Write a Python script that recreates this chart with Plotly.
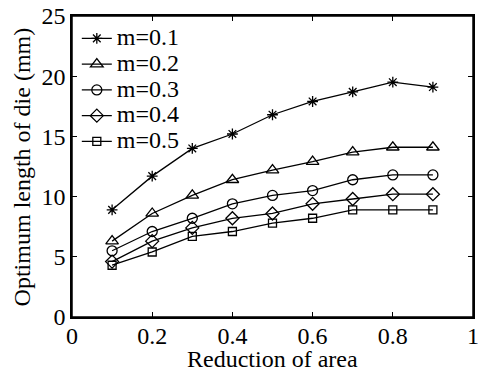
import plotly.graph_objects as go

reduction = [0.1, 0.2, 0.3, 0.4, 0.5, 0.6, 0.7, 0.8, 0.9]
m01 = [8.9, 11.7, 14.0, 15.2, 16.8, 17.9, 18.7, 19.5, 19.1]
m02 = [6.3, 8.6, 10.1, 11.4, 12.2, 12.9, 13.7, 14.1, 14.1]
m03 = [5.5, 7.1, 8.2, 9.4, 10.1, 10.5, 11.4, 11.8, 11.8]
m04 = [4.6, 6.3, 7.4, 8.2, 8.6, 9.4, 9.8, 10.2, 10.2]
m05 = [4.3, 5.4, 6.7, 7.1, 7.8, 8.2, 8.9, 8.9, 8.9]
series_names = ["m=0.1", "m=0.2", "m=0.3", "m=0.4", "m=0.5"]
series_vals = [m01, m02, m03, m04, m05]
symbols = ["asterisk-open", "triangle-up-open", "circle-open", "diamond-open", "square-open"]
sizes = [9, 11, 10, 10, 8]
x_ticks = [0, 0.2, 0.4, 0.6, 0.8, 1]
x_tick_labels = ["0", "0.2", "0.4", "0.6", "0.8", "1"]
y_ticks = [0, 5, 10, 15, 20, 25]

fig = go.Figure()
for name, vals, sym, sz in zip(series_names, series_vals, symbols, sizes):
    fig.add_trace(go.Scatter(
        x=reduction, y=vals, mode="lines+markers",
        name='<span style="font-size:24px">' + name + '</span>',
        line=dict(color="black", width=1.3),
        marker=dict(symbol=sym, size=sz, color="black", line=dict(color="black", width=1.3)),
    ))

font = "Liberation Serif, Times New Roman, serif"
axis_common = dict(
    showline=True, linecolor="black", linewidth=1.5, mirror="allticks",
    ticks="inside", ticklen=5, tickcolor="black", tickwidth=1,
    showgrid=False, zeroline=False, automargin=False,
    ticklabeloverflow="allow",
    tickfont=dict(family=font, size=24, color="black"),
)
fig.update_xaxes(range=[0, 1], tickvals=x_ticks, ticktext=x_tick_labels,
                 ticklabelstandoff=-4, **axis_common)
fig.update_yaxes(range=[0, 25], tickvals=y_ticks, **axis_common)

fig.add_shape(type="rect", xref="paper", yref="paper", x0=0, y0=0, x1=1, y1=1,
              line=dict(color="black", width=1.5), layer="above")
fig.add_annotation(text="Reduction of area", xref="paper", yref="paper", x=0.5, y=-0.14,
                   xanchor="center", yanchor="middle", showarrow=False,
                   font=dict(family=font, size=24, color="black"))
fig.add_annotation(text="Optimum length of die (mm)", xref="paper", yref="paper", x=-0.125, y=0.5,
                   xanchor="center", yanchor="middle", showarrow=False, textangle=-90,
                   font=dict(family=font, size=24, color="black"))

fig.update_layout(
    width=478, height=372,
    margin=dict(l=72, r=5, t=16, b=55),
    paper_bgcolor="white", plot_bgcolor="white",
    showlegend=True,
    legend=dict(x=0.012, y=0.985, xanchor="left", yanchor="top", bgcolor="rgba(0,0,0,0)",
                font=dict(family=font, size=17.5, color="black"), tracegroupgap=0,
                itemwidth=30),
    font=dict(family=font, color="black"),
)
fig.write_html("out.html", config={"displayModeBar": False},
               post_script="document.body.style.margin='0px';document.body.style.overflow='hidden';")
